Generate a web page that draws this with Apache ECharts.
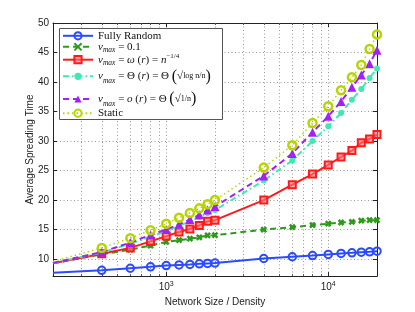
<!DOCTYPE html>
<html>
<head>
<meta charset="utf-8">
<script src="https://cdn.jsdelivr.net/npm/echarts@6/dist/echarts.min.js"></script>
<style>html,body{margin:0;padding:0;background:#fff}#c{width:415px;height:312px}</style>
</head>
<body>
<div id="c"></div>
<script>
const xs = [200, 400, 600, 800, 1000, 1200, 1400, 1600, 1800, 2000, 4000, 6000, 8000, 10000, 12000, 14000, 16000, 18000, 20000];
const fullyRandom = [7.69, 8.1, 8.45, 8.7, 8.9, 9.02, 9.1, 9.2, 9.27, 9.32, 10.1, 10.4, 10.6, 10.8, 10.96, 11.07, 11.18, 11.24, 11.35];
const vmax01 = [9.3, 10.8, 11.6, 12.3, 12.9, 13.2, 13.45, 13.7, 14.0, 14.05, 15.0, 15.4, 15.75, 16.0, 16.2, 16.3, 16.5, 16.6, 16.6];
const vmaxOmega = [9.3, 10.9, 11.9, 13.0, 13.9, 14.6, 15.1, 15.7, 16.4, 16.6, 20.0, 22.6, 24.4, 25.95, 27.3, 28.4, 29.7, 30.35, 31.1];
const vmaxTheta = [9.35, 11.1, 12.6, 13.8, 14.7, 15.6, 16.4, 17.1, 17.8, 18.3, 23.3, 26.7, 30.0, 32.5, 34.75, 37.0, 38.8, 40.7, 42.3];
const vmaxLittleO = [9.35, 11.2, 12.8, 14.1, 15.0, 15.9, 16.7, 17.5, 18.3, 18.9, 24.1, 27.9, 31.5, 34.2, 36.7, 39.1, 41.2, 43.1, 45.4];
const staticNet = [9.6, 11.9, 13.55, 14.9, 16.0, 17.0, 17.8, 18.6, 19.3, 20.0, 25.5, 29.3, 33.05, 35.9, 38.6, 40.8, 42.9, 45.6, 48.05];
const yTicks = [10, 15, 20, 25, 30, 35, 40, 45, 50];
const xMajor = [1000, 10000];
const xMinor = [300, 400, 500, 600, 700, 800, 900, 2000, 3000, 4000, 5000, 6000, 7000, 8000, 9000];
const yMin = 7.12, yMax = 50, xMin = 200, xMax = 20000;

function pts(arr) {
  return xs.map((x, i) => i === 0 ? {value: [x, arr[i]], symbol: 'none'} : [x, arr[i]]);
}

const legendLabels = {
  'Fully Random': '{t|Fully Random}',
  'v01': '{v|v}{s|max}{t| = 0.1}',
  'omega': '{v|v}{s|max}{t| = }{i|ω}{t| (}{i|r}{t|) = }{i|n}{p|−1/4}',
  'theta': '{v|v}{s|max}{t| = Θ (}{i|r}{t|) = Θ }{b|(}{t|√}{f|log n/n}{b|)}',
  'little': '{v|v}{s|max}{t| = }{i|o}{t| (}{i|r}{t|) = Θ }{b|(}{t|√}{f|1/n}{b|)}',
  'Static': '{t|Static}'
};
const rowCenters = [35.3, 46.3, 57.7, 75.3, 98, 112.7];
const names = ['Fully Random', 'v01', 'omega', 'theta', 'little', 'Static'];

const rich = {
  t: {fontFamily: 'Liberation Serif', fontSize: 11, lineHeight: 14, color: '#111'},
  v: {fontFamily: 'Liberation Serif', fontStyle: 'italic', fontSize: 11, lineHeight: 14, color: '#111'},
  i: {fontFamily: 'Liberation Serif', fontStyle: 'italic', fontSize: 11, lineHeight: 14, color: '#111'},
  s: {fontFamily: 'Liberation Serif', fontStyle: 'italic', fontSize: 7.5, lineHeight: 9, verticalAlign: 'bottom', color: '#111'},
  p: {fontFamily: 'Liberation Serif', fontSize: 7, lineHeight: 9, verticalAlign: 'top', color: '#111'},
  f: {fontFamily: 'Liberation Serif', fontSize: 8, lineHeight: 14, color: '#111'},
  b: {fontFamily: 'Liberation Serif', fontSize: 16, lineHeight: 18, color: '#111'}
};

const legends = names.map((n, k) => ({
  data: [n],
  left: 62,
  top: rowCenters[k] - (k === 3 || k === 4 ? 9 : 7) + 2,
  padding: 0,
  itemWidth: 30,
  itemHeight: 9,
  z: 6,
  formatter: nm => legendLabels[nm],
  textStyle: {rich: rich, fontFamily: 'Liberation Serif', fontSize: 11, color: '#111'}
}));

const axisTxt = {fontFamily: 'Liberation Sans', fontSize: 10, color: '#222'};
const gridLine = {show: true, lineStyle: {color: '#999', width: 1, type: [1, 2.5]}};

const option = {
  animation: false,
  backgroundColor: '#fff',
  grid: {left: 53, right: 38, top: 23, bottom: 35},
  graphic: [{
    type: 'rect', z: 3, left: 59, top: 28,
    shape: {width: 163, height: 91},
    style: {fill: '#fff', stroke: '#555', lineWidth: 1}
  }],
  legend: legends,
  xAxis: [
    {type: 'log', logBase: 10, min: xMin, max: xMax, position: 'bottom',
     name: 'Network Size / Density', nameLocation: 'middle', nameGap: 19,
     nameTextStyle: axisTxt,
     axisLine: {show: true, onZero: false, lineStyle: {color: '#222', width: 1}},
     axisTick: {show: true, inside: true, length: 4, customValues: xMajor, lineStyle: {color: '#222'}},
     axisLabel: {show: true, customValues: xMajor, margin: 4,
       formatter: v => '{a|10}{e|' + Math.round(Math.log10(v)) + '}',
       rich: {a: {fontFamily: 'Liberation Sans', fontSize: 10, color: '#222', lineHeight: 12, verticalAlign: 'bottom'},
              e: {fontFamily: 'Liberation Sans', fontSize: 7, color: '#222', lineHeight: 8, verticalAlign: 'top'}}},
     splitLine: Object.assign({}, gridLine)},
    {type: 'log', logBase: 10, min: xMin, max: xMax, position: 'bottom',
     axisLine: {show: false, onZero: false},
     axisTick: {show: true, inside: true, length: 2, customValues: xMinor, lineStyle: {color: '#555'}},
     axisLabel: {show: false},
     splitLine: Object.assign({}, gridLine)},
    {type: 'log', logBase: 10, min: xMin, max: xMax, position: 'top',
     axisLine: {show: true, onZero: false, lineStyle: {color: '#222', width: 1}},
     axisTick: {show: true, inside: true, length: 4, customValues: xMajor, lineStyle: {color: '#222'}},
     axisLabel: {show: false}, splitLine: {show: false}},
    {type: 'log', logBase: 10, min: xMin, max: xMax, position: 'top',
     axisLine: {show: false, onZero: false},
     axisTick: {show: true, inside: true, length: 2, customValues: xMinor, lineStyle: {color: '#555'}},
     axisLabel: {show: false}, splitLine: {show: false}}
  ],
  yAxis: [
    {type: 'value', min: yMin, max: yMax, position: 'left',
     name: 'Average Spreading Time', nameLocation: 'middle', nameGap: 18, nameMoveOverlap: false,
     nameTextStyle: axisTxt,
     axisLine: {show: true, onZero: false, lineStyle: {color: '#222', width: 1}},
     axisTick: {show: true, inside: true, length: 4, customValues: yTicks, lineStyle: {color: '#222'}},
     axisLabel: {show: true, customValues: yTicks, margin: 4, fontFamily: 'Liberation Sans', fontSize: 10, color: '#222'},
     splitLine: Object.assign({}, gridLine)},
    {type: 'value', min: yMin, max: yMax, position: 'right',
     axisLine: {show: true, onZero: false, lineStyle: {color: '#222', width: 1}},
     axisTick: {show: true, inside: true, length: 4, customValues: yTicks, lineStyle: {color: '#222'}},
     axisLabel: {show: false}, splitLine: {show: false}}
  ],
  series: [
    {name: 'Fully Random', type: 'line', data: pts(fullyRandom), z: 2,
     symbol: 'circle', symbolSize: 7.5,
     lineStyle: {color: '#2a4bff', width: 2},
     itemStyle: {color: 'rgba(255,255,255,0)', borderColor: '#2a4bff', borderWidth: 2}},
    {name: 'v01', type: 'line', data: pts(vmax01), z: 3,
     symbol: 'path://M0,0L10,10M10,0L0,10', symbolSize: 5,
     lineStyle: {color: '#2e9a1c', width: 2, type: [6, 4]},
     itemStyle: {color: '#2e9a1c', borderColor: '#2e9a1c', borderWidth: 2.5}},
    {name: 'omega', type: 'line', data: pts(vmaxOmega), z: 4,
     symbol: 'rect', symbolSize: 7,
     lineStyle: {color: '#ff1a1a', width: 2},
     itemStyle: {color: 'rgba(255,120,120,0.6)', borderColor: '#ff1a1a', borderWidth: 2}},
    {name: 'theta', type: 'line', data: pts(vmaxTheta), z: 5,
     symbol: 'circle', symbolSize: 6,
     lineStyle: {color: '#40e8b4', width: 2, type: [6, 3, 1.5, 3]},
     itemStyle: {color: '#40e8b4', borderWidth: 0}},
    {name: 'little', type: 'line', data: pts(vmaxLittleO), z: 6,
     symbol: 'triangle', symbolSize: 9,
     lineStyle: {color: '#a222f5', width: 2, type: [6, 4]},
     itemStyle: {color: '#a222f5', borderWidth: 0}},
    {name: 'Static', type: 'line', data: pts(staticNet), z: 7,
     symbol: 'circle', symbolSize: 8,
     lineStyle: {color: '#b8d400', width: 1.5, type: [1.5, 3]},
     itemStyle: {color: 'rgba(255,255,255,0)', borderColor: '#b8d400', borderWidth: 2.5}}
  ]
};
const chart = echarts.init(document.getElementById('c'), null, {renderer: 'canvas'});
chart.setOption(option);
</script>
</body>
</html>
